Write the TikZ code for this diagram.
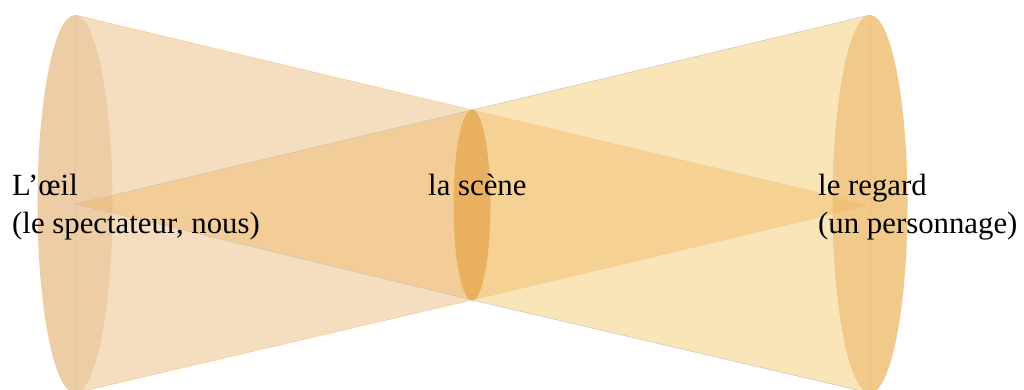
\documentclass[tikz,border=0pt]{standalone}
\usepackage{fontspec}
\setmainfont{Liberation Serif}
\begin{document}
\begin{tikzpicture}[x=1pt,y=-1pt,
  lbl/.style={font=\fontsize{30.8}{38}\selectfont,inner sep=0pt,anchor=base west,align=left},
  edgeA/.style={draw=orange!45,line width=0.5pt},
  edgeG/.style={draw=gray!50,line width=0.4pt}]
\definecolor{peach}{RGB}{245,222,192}
\definecolor{straw}{RGB}{249,229,183}
\definecolor{lell}{RGB}{237,205,165}
\definecolor{rell}{RGB}{241,201,138}
\definecolor{mell}{RGB}{233,176,96}
\definecolor{ora}{RGB}{238,176,80}
\useasboundingbox (0,0) rectangle (1024,390);
\fill[white] (0,0) rectangle (1024,390);
% points
\coordinate (LT) at (75,15);
\coordinate (LB) at (75,393);
\coordinate (LA) at (76,204);
\coordinate (MT) at (472,110);
\coordinate (MB) at (472,300);
\coordinate (RT) at (870,15);
\coordinate (RB) at (870,393);
\coordinate (RA) at (870,205);
% big cones
\fill[peach] (LT) -- (MT) -- (MB) -- (LB) -- cycle;
\draw[edgeA] (LT) -- (MT) (LB) -- (MB);
\fill[straw] (MT) -- (RT) -- (RB) -- (MB) -- cycle;
\draw[edgeG] (MT) -- (RT) (MB) -- (RB);
% end ellipses
\fill[lell] (75,204) ellipse [x radius=37.5, y radius=189];
\draw[draw=lell!90!orange,line width=0.4pt] (LT) -- (LB);
\fill[rell] (870,204) ellipse [x radius=37.5, y radius=189];
\draw[draw=rell!92!orange,line width=0.4pt] (RT) -- (RB);
% small cones
\fill[ora,fill opacity=0.36] (LA) -- (MT) -- (MB) -- cycle;
\draw[edgeG] (LA) -- (MT) (LA) -- (MB);
\fill[ora,fill opacity=0.35] (RA) -- (MT) -- (MB) -- cycle;
\draw[edgeA] (RA) -- (MT) (RA) -- (MB);
% middle ellipse
\fill[mell] (472,205) ellipse [x radius=18.5, y radius=95.5];
% labels
\node[lbl] (oeil) at (12,233) {L’œil\\(le spectateur, nous)};
\node[lbl] (scene) at (428,195) {la scène};
\node[lbl] (regard) at (818,233) {le regard\\(un personnage)};
\end{tikzpicture}
\end{document}
